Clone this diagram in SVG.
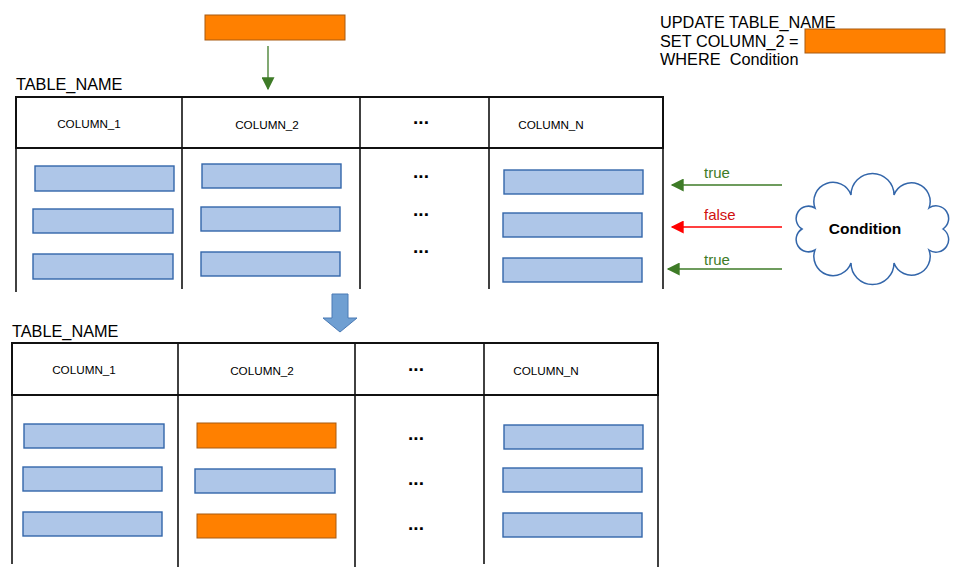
<svg xmlns="http://www.w3.org/2000/svg" width="960" height="576" viewBox="0 0 960 576">
<defs>
<style>
.t{font-family:"Liberation Sans",Arial,sans-serif;fill:#000}
.title{font-size:16.3px}
.hdr{font-size:11.7px;text-anchor:middle}
.dots{font-size:19px;font-weight:bold;text-anchor:middle}
.grid{stroke:#111;stroke-width:2;fill:none}
.vline{stroke:#111;stroke-width:1.6}
.blue{fill:#AEC6E8;stroke:#3366AA;stroke-width:1.4}
.orange{fill:#FF8000;stroke:#A85A10;stroke-width:1}
.lbl{font-family:"Liberation Sans",Arial,sans-serif;font-size:15px;text-anchor:start}
</style>
<marker id="ag" viewBox="0 0 10 10" refX="9" refY="5" markerWidth="19" markerHeight="13" markerUnits="userSpaceOnUse" orient="auto"><path d="M0,0 L10,5 L0,10 z" fill="#3E7B27"/></marker>
<marker id="ar" viewBox="0 0 10 10" refX="9" refY="5" markerWidth="19" markerHeight="13" markerUnits="userSpaceOnUse" orient="auto"><path d="M0,0 L10,5 L0,10 z" fill="#FF0000"/></marker>
</defs>

<g id="value-box"><rect class="orange" x="205" y="15" width="140" height="25"/></g>

<g id="sql">
<text class="t title" x="660" y="28">UPDATE TABLE_NAME</text>
<text class="t title" x="660" y="47">SET COLUMN_2 =</text>
<text class="t title" x="660" y="65" xml:space="preserve">WHERE  Condition</text>
<rect class="orange" x="805" y="29" width="140" height="24"/>
</g>

<g id="table1">
<text class="t title" x="16" y="90">TABLE_NAME</text>
<rect class="grid" x="16" y="97" width="647" height="51"/>
<line class="vline" x1="16" y1="97" x2="16" y2="292"/>
<line class="vline" x1="182" y1="97" x2="182" y2="289"/>
<line class="vline" x1="360" y1="97" x2="360" y2="289"/>
<line class="vline" x1="489" y1="97" x2="489" y2="289"/>
<line class="vline" x1="663" y1="97" x2="663" y2="289"/>
<text class="t hdr" x="89" y="128">COLUMN_1</text>
<text class="t hdr" x="267" y="129">COLUMN_2</text>
<text class="t dots" x="421" y="124">...</text>
<text class="t hdr" x="551" y="129">COLUMN_N</text>
<rect class="blue" x="35" y="166" width="139" height="25"/>
<rect class="blue" x="33" y="209" width="140" height="24"/>
<rect class="blue" x="33" y="254" width="140" height="25"/>
<rect class="blue" x="202" y="164" width="139" height="24"/>
<rect class="blue" x="201" y="207" width="139" height="24"/>
<rect class="blue" x="201" y="252" width="139" height="24"/>
<rect class="blue" x="504" y="170" width="139" height="24"/>
<rect class="blue" x="503" y="213" width="139" height="24"/>
<rect class="blue" x="503" y="258" width="139" height="24"/>
<text class="t dots" x="421" y="178">...</text>
<text class="t dots" x="421" y="216">...</text>
<text class="t dots" x="421" y="253">...</text>
</g>

<g id="condition">
<path d="M943,229 A1 1 0 0 1 929,250 A1 1 0 0 1 894,263 A1 1 0 0 1 851,263 A1 1 0 0 1 815,250 A1 1 0 0 1 802,229 A1 1 0 0 1 815,208 A1 1 0 0 1 851,195 A1 1 0 0 1 894,195 A1 1 0 0 1 929,208 A1 1 0 0 1 943,229 Z" fill="#fff" stroke="#3366AA" stroke-width="1.5"/>
<text class="t" x="865" y="234" font-size="15.5" font-weight="bold" text-anchor="middle">Condition</text>
</g>

<g id="table2">
<text class="t title" x="12" y="337">TABLE_NAME</text>
<rect class="grid" x="12" y="343" width="646" height="52"/>
<line class="vline" x1="12" y1="343" x2="12" y2="564"/>
<line class="vline" x1="178" y1="343" x2="178" y2="567"/>
<line class="vline" x1="355" y1="343" x2="355" y2="567"/>
<line class="vline" x1="484" y1="343" x2="484" y2="564"/>
<line class="vline" x1="658" y1="343" x2="658" y2="567"/>
<text class="t hdr" x="84" y="374">COLUMN_1</text>
<text class="t hdr" x="262" y="375">COLUMN_2</text>
<text class="t dots" x="416" y="371">...</text>
<text class="t hdr" x="546" y="375">COLUMN_N</text>
<rect class="blue" x="24" y="424" width="140" height="24"/>
<rect class="blue" x="23" y="467" width="139" height="24"/>
<rect class="blue" x="23" y="512" width="139" height="24"/>
<rect class="orange" x="197" y="423" width="139" height="25"/>
<rect class="blue" x="195" y="469" width="140" height="24"/>
<rect class="orange" x="197" y="514" width="139" height="24"/>
<rect class="blue" x="504" y="425" width="139" height="24"/>
<rect class="blue" x="503" y="468" width="139" height="24"/>
<rect class="blue" x="503" y="513" width="139" height="24"/>
<text class="t dots" x="416" y="440">...</text>
<text class="t dots" x="416" y="485">...</text>
<text class="t dots" x="416" y="530">...</text>
</g>

<g id="connectors">
<line x1="268" y1="46" x2="268" y2="89" stroke="#3E7B27" stroke-width="1.3" marker-end="url(#ag)"/>
<line x1="782" y1="185" x2="672" y2="185" stroke="#3E7B27" stroke-width="1.3" marker-end="url(#ag)"/>
<text class="lbl" x="704" y="178" fill="#3E7B27">true</text>
<line x1="782" y1="227" x2="672" y2="227" stroke="#FF0000" stroke-width="1.3" marker-end="url(#ar)"/>
<text class="lbl" x="704" y="220" fill="#D01010">false</text>
<line x1="782" y1="269" x2="668" y2="269" stroke="#3E7B27" stroke-width="1.3" marker-end="url(#ag)"/>
<text class="lbl" x="704" y="265" fill="#3E7B27">true</text>
<path d="M332,294 L348,294 L348,318 L357,318 L340,332 L323,318 L332,318 Z" fill="#6F9FD2" stroke="#4A7AB5" stroke-width="1"/>
</g>
</svg>
